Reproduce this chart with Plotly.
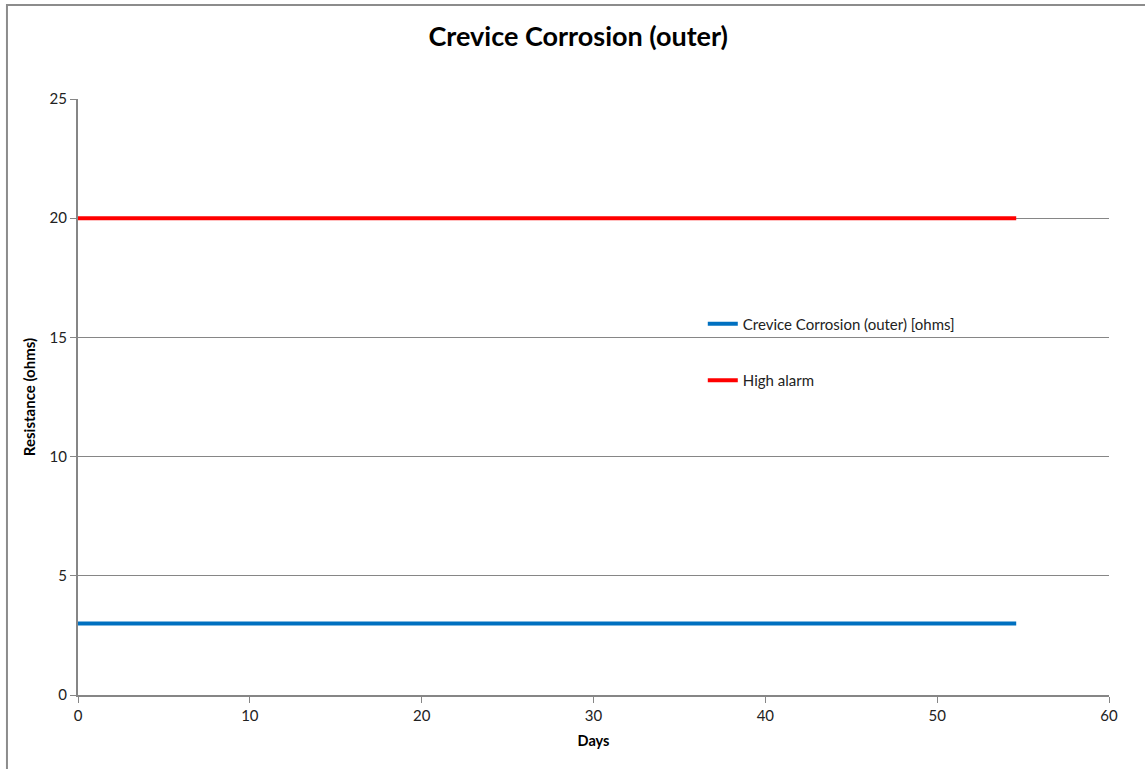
import plotly.graph_objects as go

# Measurement series
days = [0, 54.6]
resistance_ohms = [3, 3]
high_alarm = [20, 20]

series_name = "Crevice Corrosion (outer) [ohms]"
alarm_name = "High alarm"

fig = go.Figure()
fig.add_trace(go.Scatter(
    x=days, y=resistance_ohms, mode="lines", name=series_name,
    line=dict(color="#0070C0", width=4), legendgroup="a",
))
fig.add_trace(go.Scatter(
    x=days, y=high_alarm, mode="lines", name=alarm_name,
    line=dict(color="#FF0000", width=4), legendgroup="b",
))

grid = "#868686"
font = "Lato, 'Open Sans', sans-serif"

fig.update_layout(
    width=1145, height=769,
    margin=dict(l=78, r=36, t=99, b=74),
    paper_bgcolor="white", plot_bgcolor="white",
    font=dict(family=font, color="#222222", size=14),
    title=dict(text="<b>Crevice Corrosion (outer)</b>", x=0.505, xanchor="center",
               y=0.952, yanchor="middle", font=dict(size=27, color="black")),
    legend=dict(x=0.606, y=0.65, xanchor="left", yanchor="top",
                bgcolor="rgba(0,0,0,0)", font=dict(size=15, color="#222222"),
                tracegroupgap=34, traceorder="grouped"),
    showlegend=True,
    xaxis=dict(range=[0, 60], dtick=10, showgrid=False, zeroline=False,
               showline=True, linecolor=grid, linewidth=2,
               ticks="outside", ticklen=6, tickcolor=grid, tickwidth=1,
               tickfont=dict(size=15),
               title=dict(text="<b>Days</b>", font=dict(size=14.5, color="black"), standoff=13)),
    yaxis=dict(range=[0, 25], dtick=5, showgrid=True, gridcolor=grid, gridwidth=1,
               zeroline=False, showline=True, linecolor=grid, linewidth=2,
               ticks="outside", ticklen=6, tickcolor=grid, tickwidth=1,
               tickfont=dict(size=15),
               title=dict(text="<b>Resistance (ohms)</b>", font=dict(size=15, color="black"), standoff=10)),
    shapes=[dict(type="rect", xref="paper", yref="paper",
                 x0=-0.0689, x1=1.2, y0=-0.3, y1=1.1577,
                 line=dict(color="#8c8c8c", width=2), fillcolor="rgba(0,0,0,0)", layer="below")],
)

fig.write_html("out.html")
